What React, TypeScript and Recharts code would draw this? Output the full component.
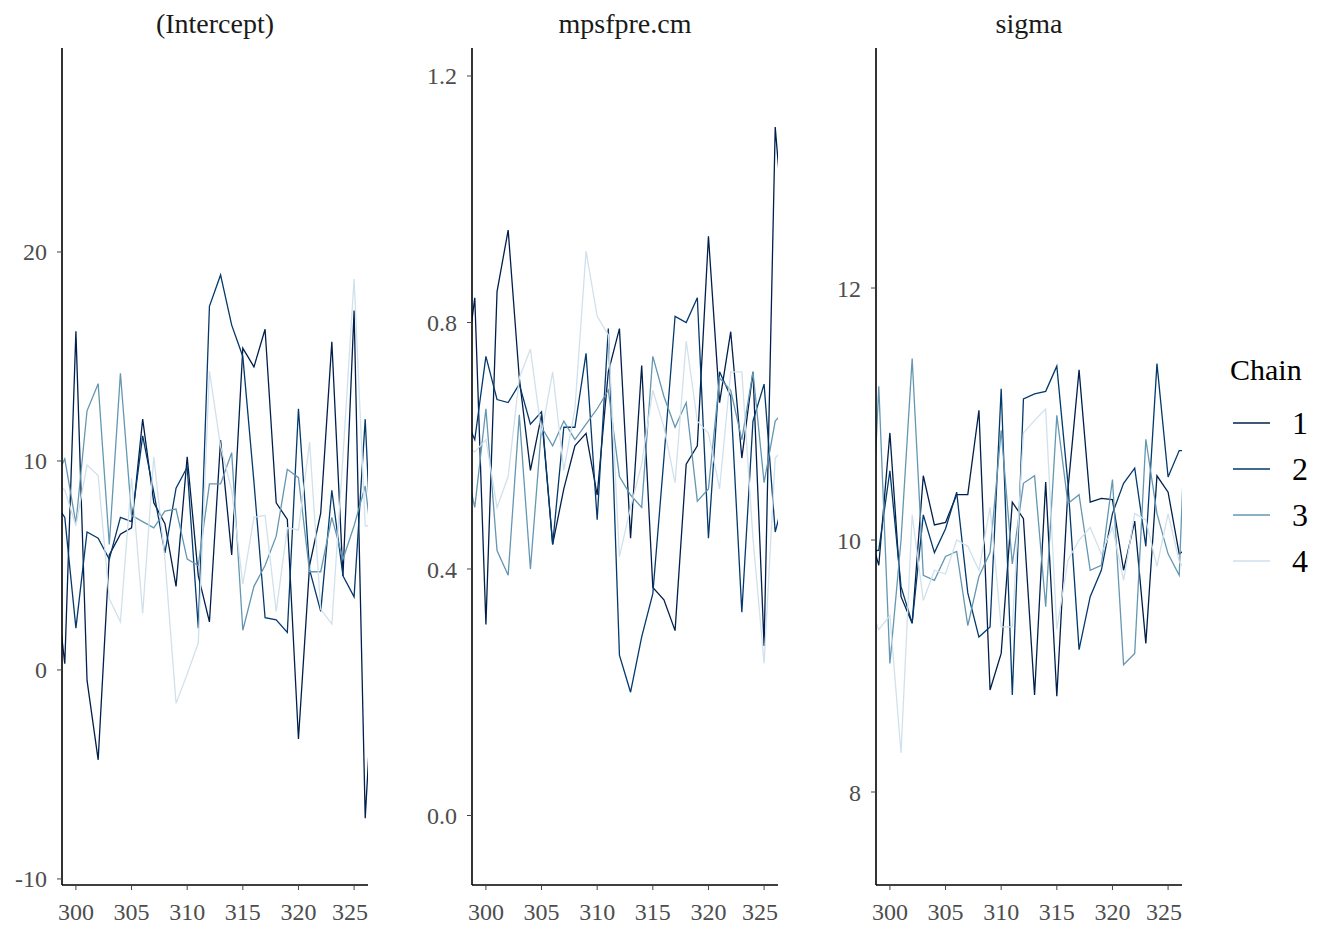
import { LineChart, Line, XAxis, YAxis } from 'recharts';

// iterations shown in the trace window (298 and 327 only feed the clipped edges)
const ITER = [298, 299, 300, 301, 302, 303, 304, 305, 306, 307, 308, 309, 310, 311, 312, 313, 314, 315, 316, 317, 318, 319, 320, 321, 322, 323, 324, 325, 326, 327];
const X_TICKS = [300, 305, 310, 315, 320, 325];
const CHAINS = ['1', '2', '3', '4'];
const COLORS = ['#011f4b', '#03396c', '#6497b1', '#d1e1ec'];

// (Intercept)
const INT_C1 = [5.0, 0.3, 16.2, -0.5, -4.3, 5.5, 6.5, 6.8, 12.0, 8.0, 7.0, 4.0, 10.2, 4.5, 2.3, 11.0, 5.5, 15.4, 14.5, 16.3, 8.0, 7.2, -3.3, 5.0, 7.5, 15.7, 4.5, 17.2, -7.1, 2.5];
const INT_C2 = [8.1, 7.3, 2.0, 6.6, 6.3, 5.3, 7.3, 7.1, 11.2, 8.5, 5.6, 8.7, 9.7, 2.0, 17.4, 18.9, 16.5, 15.0, 9.0, 2.5, 2.4, 1.8, 12.5, 4.8, 2.8, 8.6, 4.5, 3.5, 12.0, 0.5];
const INT_C3 = [9.0, 10.1, 7.0, 12.4, 13.7, 6.0, 14.2, 7.4, 7.1, 6.8, 7.6, 7.7, 5.3, 5.0, 8.9, 8.9, 10.4, 1.9, 4.0, 5.0, 6.4, 9.6, 9.2, 4.7, 4.7, 7.3, 5.3, 6.9, 8.8, 4.4];
const INT_C4 = [9.0, 8.6, 6.9, 9.8, 9.3, 3.4, 2.3, 9.2, 2.7, 10.2, 5.3, -1.6, -0.2, 1.3, 14.3, 10.7, 8.6, 4.1, 7.3, 7.4, 2.8, 6.8, 6.7, 10.9, 2.9, 2.2, 10.2, 18.7, 6.9, 6.9];

// mpsfpre.cm
const MPS_C1 = [0.7, 0.84, 0.31, 0.85, 0.95, 0.71, 0.56, 0.65, 0.44, 0.53, 0.6, 0.62, 0.52, 0.72, 0.79, 0.45, 0.73, 0.37, 0.35, 0.3, 0.57, 0.6, 0.94, 0.67, 0.785, 0.58, 0.72, 0.275, 1.117, 0.9];
const MPS_C2 = [0.65, 0.61, 0.745, 0.675, 0.67, 0.7, 0.635, 0.655, 0.44, 0.63, 0.63, 0.75, 0.48, 0.79, 0.26, 0.2, 0.29, 0.36, 0.58, 0.81, 0.8, 0.84, 0.45, 0.72, 0.68, 0.33, 0.64, 0.7, 0.46, 0.53];
const MPS_C3 = [0.58, 0.5, 0.66, 0.43, 0.39, 0.65, 0.4, 0.63, 0.6, 0.64, 0.61, 0.635, 0.66, 0.69, 0.55, 0.52, 0.5, 0.745, 0.68, 0.63, 0.67, 0.51, 0.53, 0.71, 0.69, 0.61, 0.72, 0.54, 0.64, 0.66];
const MPS_C4 = [0.6, 0.59, 0.61, 0.5, 0.55, 0.71, 0.757, 0.62, 0.72, 0.56, 0.66, 0.916, 0.81, 0.78, 0.42, 0.5, 0.57, 0.69, 0.63, 0.54, 0.77, 0.64, 0.62, 0.53, 0.72, 0.72, 0.45, 0.247, 0.58, 0.6];

// sigma
const SIG_C1 = [10.1, 9.8, 10.85, 9.55, 9.34, 10.51, 10.12, 10.14, 10.36, 10.36, 11.03, 8.81, 9.1, 10.3, 10.17, 8.77, 10.46, 8.76, 10.4, 11.35, 10.3, 10.33, 10.32, 9.76, 10.15, 9.18, 10.51, 10.38, 9.89, 9.95];
const SIG_C2 = [9.9, 9.92, 10.55, 9.63, 9.34, 10.2, 9.9, 10.09, 10.38, 9.58, 9.23, 9.31, 11.2, 8.77, 11.12, 11.16, 11.18, 11.38, 10.45, 9.13, 9.55, 9.76, 10.21, 10.45, 10.57, 9.95, 11.4, 10.5, 10.71, 10.71];
const SIG_C3 = [9.3, 11.22, 9.02, 10.0, 11.44, 9.72, 9.68, 9.87, 9.91, 9.32, 9.71, 9.9, 10.87, 9.81, 10.45, 10.51, 9.47, 10.99, 10.29, 10.36, 9.76, 9.8, 10.48, 9.01, 9.1, 10.8, 10.21, 9.89, 9.72, 12.0];
const SIG_C4 = [9.5, 9.29, 9.4, 8.31, 10.2, 9.52, 9.76, 9.73, 10.0, 9.95, 9.76, 10.26, 9.31, 9.31, 10.85, 10.95, 11.04, 9.29, 9.84, 10.0, 10.1, 9.89, 10.1, 9.68, 10.21, 10.16, 9.79, 10.21, 9.83, 9.7];

const FONT = '"Liberation Serif", "Times New Roman", serif';

function toRows(series: number[][]) {
  return ITER.map((iter, i) => ({
    iter,
    c1: series[0][i],
    c2: series[1][i],
    c3: series[2][i],
    c4: series[3][i],
  }));
}

type PanelProps = {
  left: number;
  title: string;
  rows: ReturnType<typeof toRows>;
  yDomain: [number, number];
  yTicks: number[];
  fmt: (v: number) => string;
};

function TracePanel({ left, title, rows, yDomain, yTicks, fmt }: PanelProps) {
  return (
    <div style={{ position: 'absolute', left, top: 0, width: 368, height: 926 }}>
      <LineChart width={368} height={926} data={rows} margin={{ top: 48, right: 0, bottom: 0, left: 0 }}>
        <XAxis
          dataKey="iter"
          type="number"
          domain={[298.75, 326.25]}
          allowDataOverflow
          ticks={X_TICKS}
          height={41}
          tickSize={5}
          tickMargin={13}
          axisLine={{ stroke: '#000', strokeWidth: 1.6 }}
          tickLine={{ stroke: '#444' }}
          tick={{ fill: '#4d4d4d', fontSize: 24, fontFamily: FONT }}
        />
        <YAxis
          type="number"
          domain={yDomain}
          allowDataOverflow
          ticks={yTicks}
          width={62}
          tickSize={5}
          tickMargin={10}
          tickFormatter={fmt}
          axisLine={{ stroke: '#000', strokeWidth: 1.6 }}
          tickLine={{ stroke: '#444' }}
          tick={{ fill: '#4d4d4d', fontSize: 24, fontFamily: FONT }}
        />
        {CHAINS.map((c, k) => (
          <Line
            key={c}
            type="linear"
            dataKey={`c${k + 1}`}
            stroke={COLORS[k]}
            strokeWidth={1.3}
            dot={false}
            activeDot={false}
            isAnimationActive={false}
          />
        ))}
      </LineChart>
      <div
        style={{
          position: 'absolute',
          top: 6,
          left: 62,
          width: 306,
          textAlign: 'center',
          fontSize: 28,
          lineHeight: '36px',
          fontFamily: FONT,
          color: '#1a1a1a',
        }}
      >
        {title}
      </div>
    </div>
  );
}

export default function App() {
  return (
    <div style={{ position: 'absolute', left: 0, top: 0, width: 1319, height: 926, background: '#fff' }}>
      <TracePanel
        left={0}
        title="(Intercept)"
        rows={toRows([INT_C1, INT_C2, INT_C3, INT_C4])}
        yDomain={[-10.29, 29.76]}
        yTicks={[-10, 0, 10, 20]}
        fmt={(v) => String(v)}
      />
      <TracePanel
        left={410}
        title="mpsfpre.cm"
        rows={toRows([MPS_C1, MPS_C2, MPS_C3, MPS_C4])}
        yDomain={[-0.1128, 1.2454]}
        yTicks={[0, 0.4, 0.8, 1.2]}
        fmt={(v) => v.toFixed(1)}
      />
      <TracePanel
        left={814}
        title="sigma"
        rows={toRows([SIG_C1, SIG_C2, SIG_C3, SIG_C4])}
        yDomain={[7.262, 13.905]}
        yTicks={[8, 10, 12]}
        fmt={(v) => String(v)}
      />
      <div style={{ position: 'absolute', left: 1230, top: 352, fontFamily: FONT, color: '#000' }}>
        <div style={{ fontSize: 30, lineHeight: '36px' }}>Chain</div>
        {CHAINS.map((c, k) => (
          <div key={c} style={{ position: 'absolute', left: 0, top: 48 + k * 46, width: 90, height: 46 }}>
            <svg width={44} height={46} style={{ position: 'absolute', left: 0, top: 0 }}>
              <line x1={3} x2={40} y1={23} y2={23} stroke={COLORS[k]} strokeWidth={1.3} />
            </svg>
            <div style={{ position: 'absolute', left: 60, top: 5, width: 20, textAlign: 'center', fontSize: 32, lineHeight: '36px' }}>
              {c}
            </div>
          </div>
        ))}
      </div>
    </div>
  );
}
